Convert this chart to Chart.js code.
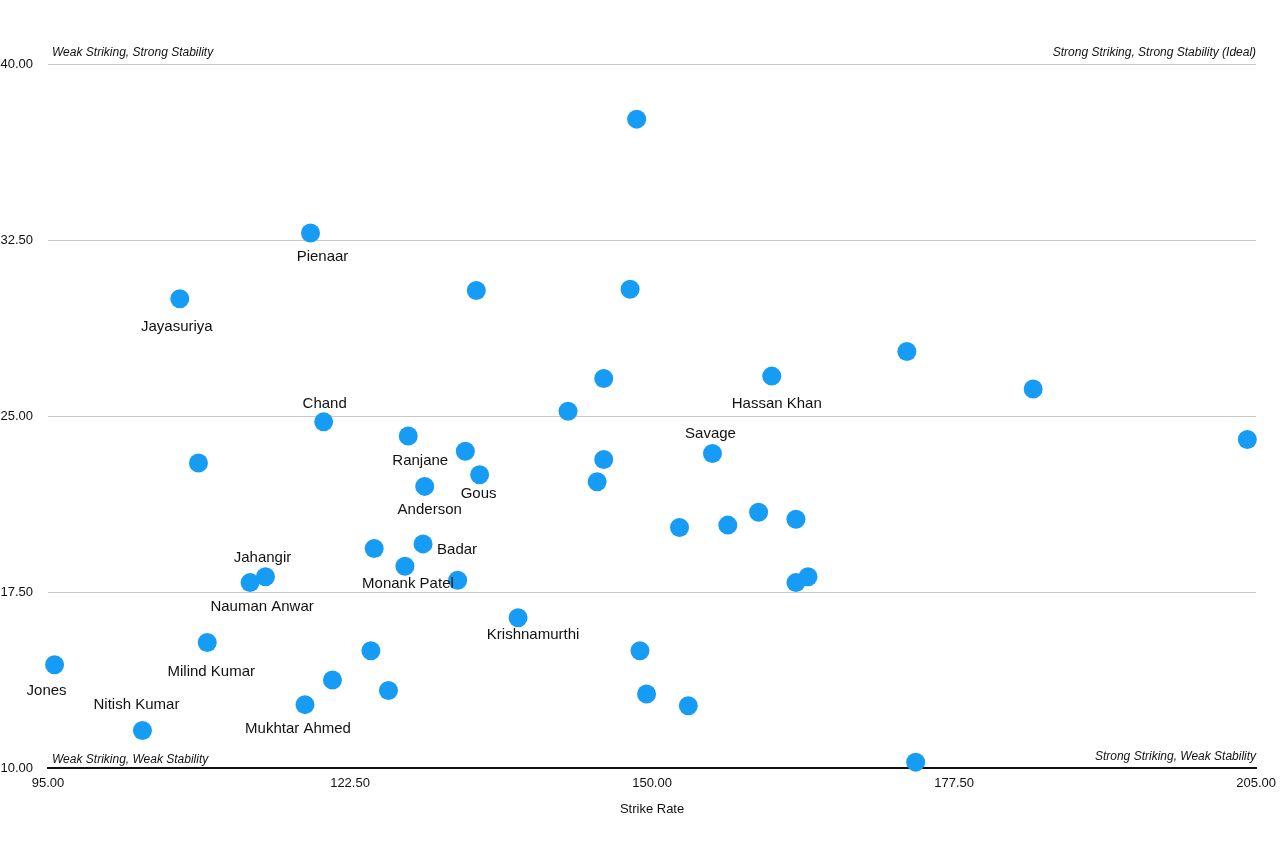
<!DOCTYPE html>
<html>
<head>
<meta charset="utf-8">
<script src="https://cdn.jsdelivr.net/npm/chart.js@4"></script>
<style>
  html, body { margin: 0; padding: 0; background: #fff; overflow: hidden; }
  #wrap { position: absolute; left: -30px; top: 0; width: 1314px; height: 853px; }
</style>
</head>
<body>
<div id="wrap"><canvas id="chart"></canvas></div>
<script>
// Player names ('' = unlabelled point)
const players = [
  "", "Pienaar", "Jayasuriya", "", "", "", "", "Hassan Khan", "", "",
  "Chand", "", "Ranjane", "", "", "", "Savage", "Gous", "Anderson", "",
  "", "", "", "", "Badar", "", "Monank Patel", "", "Jahangir", "Nauman Anwar",
  "", "", "Krishnamurthi", "Milind Kumar", "", "", "Jones", "", "", "",
  "Mukhtar Ahmed", "", "Nitish Kumar", "",
];

// Strike rate (x)
const strikeRate = [
  148.6, 118.9, 107.0, 134.0, 148.0, 173.2, 184.7, 160.9, 145.6, 142.35,
  120.1, 204.2, 127.8, 133.0, 108.7, 145.6, 155.5, 134.3, 129.3, 145.0,
  152.5, 156.9, 159.7, 163.1, 129.15, 124.7, 127.5, 132.3, 114.8, 113.4,
  163.1, 164.2, 137.8, 109.5, 124.4, 148.9, 95.6, 120.9, 126.0, 149.5,
  118.4, 153.3, 103.6, 174.0,
];

// Stability (y)
const stability = [
  37.65, 32.8, 30.0, 30.35, 30.4, 27.75, 26.15, 26.7, 26.6, 25.2,
  24.75, 24.0, 24.15, 23.5, 23.0, 23.15, 23.4, 22.5, 22.0, 22.2,
  20.25, 20.35, 20.9, 20.6, 19.55, 19.35, 18.6, 18.0, 18.15, 17.9,
  17.9, 18.15, 16.4, 15.35, 15.0, 15.0, 14.4, 13.75, 13.3, 13.15,
  12.7, 12.65, 11.6, 10.25,
];

const xTicks = [95, 122.5, 150, 177.5, 205];
const yTicks = [10, 17.5, 25, 32.5, 40];

const quadrantNotes = [
  "Weak Striking, Strong Stability",
  "Strong Striking, Strong Stability (Ideal)",
  "Weak Striking, Weak Stability",
  "Strong Striking, Weak Stability",
];

// label placement (pixel offset of label centre from its point)
const labelOffset = {
  "Pienaar": [12, 24], "Jayasuriya": [-3, 28], "Chand": [1, -18],
  "Ranjane": [12, 25], "Gous": [-1, 19], "Anderson": [5, 23],
  "Badar": [34, 6], "Monank Patel": [3, 18], "Jahangir": [-3, -19],
  "Nauman Anwar": [12, 24], "Krishnamurthi": [15, 17], "Milind Kumar": [4, 29],
  "Jones": [-8, 26], "Nitish Kumar": [-6, -26], "Mukhtar Ahmed": [-7, 24],
  "Hassan Khan": [5, 28], "Savage": [-2, -20],
};

const FONT = "'Liberation Sans', Arial, Helvetica, sans-serif";

const points = strikeRate.map((x, i) => ({ x, y: stability[i] }));

// Draws names next to the points and the corner notes
const annotate = {
  id: "annotate",
  afterDatasetsDraw(chart) {
    const ctx = chart.ctx;
    const meta = chart.getDatasetMeta(0);
    const area = chart.chartArea;
    ctx.save();
    ctx.fillStyle = "#111";
    ctx.font = "15px " + FONT;
    ctx.textAlign = "center";
    ctx.textBaseline = "middle";
    meta.data.forEach((el, i) => {
      const name = players[i];
      if (!name) return;
      const off = labelOffset[name] || [0, 22];
      ctx.fillText(name, el.x + off[0], el.y + off[1]);
    });

    ctx.font = "italic 12px " + FONT;
    ctx.textBaseline = "middle";
    ctx.textAlign = "left";
    ctx.fillText(quadrantNotes[0], area.left + 4, area.top - 11);
    ctx.fillText(quadrantNotes[2], area.left + 4, area.bottom - 8);
    ctx.textAlign = "right";
    ctx.fillText(quadrantNotes[1], area.right, area.top - 11);
    ctx.fillText(quadrantNotes[3], area.right, area.bottom - 11);
    ctx.restore();
  },
};

new Chart(document.getElementById("chart"), {
  type: "scatter",
  data: {
    datasets: [
      {
        data: points,
        backgroundColor: "#179cf5",
        borderWidth: 0,
        pointRadius: 9.5,
        pointHoverRadius: 9.5,
        clip: false,
      },
    ],
  },
  options: {
    responsive: true,
    maintainAspectRatio: false,
    animation: false,
    layout: { padding: { top: 64, right: 20, left: 0, bottom: 32 } },
    plugins: {
      legend: { display: false },
      tooltip: { enabled: false },
    },
    scales: {
      x: {
        type: "linear",
        min: xTicks[0],
        max: xTicks[xTicks.length - 1],
        afterBuildTicks: (axis) => {
          axis.ticks = xTicks.map((v) => ({ value: v }));
        },
        afterFit: (axis) => {
          axis.height = 53;
        },
        grid: { display: false, drawTicks: false },
        border: { display: true, color: "#111", width: 2 },
        ticks: {
          padding: 8,
          color: "#111",
          font: { size: 13, family: FONT },
          callback: (v) => Number(v).toFixed(2),
        },
        title: {
          display: true,
          text: "Strike Rate",
          color: "#111",
          font: { size: 13, family: FONT },
          padding: { top: 10 },
        },
      },
      y: {
        type: "linear",
        min: yTicks[0],
        max: yTicks[yTicks.length - 1],
        afterBuildTicks: (axis) => {
          axis.ticks = yTicks.map((v) => ({ value: v }));
        },
        afterFit: (axis) => {
          axis.width = 78;
        },
        grid: { color: "#c8c8c8", lineWidth: 1, drawTicks: false },
        border: { display: false },
        ticks: {
          padding: 15,
          color: "#111",
          font: { size: 13, family: FONT },
          callback: (v) => Number(v).toFixed(2),
        },
      },
    },
  },
  plugins: [annotate],
});
</script>
</body>
</html>
